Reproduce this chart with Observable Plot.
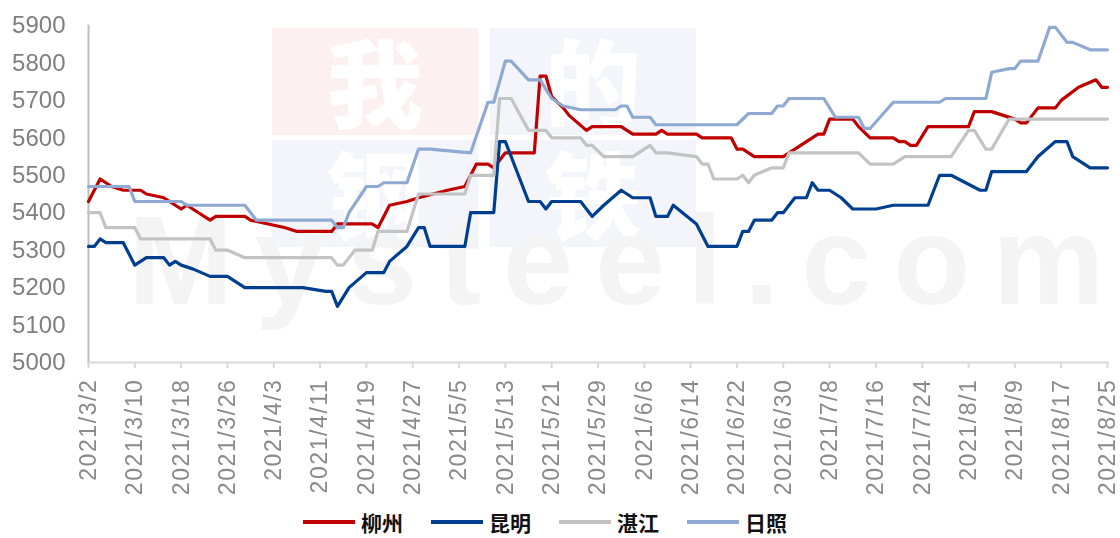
<!DOCTYPE html>
<html>
<head>
<meta charset="utf-8">
<script src="https://cdn.jsdelivr.net/npm/d3@7"></script>
<script src="https://cdn.jsdelivr.net/npm/@observablehq/plot@0.6"></script>
<style>
  html, body { margin: 0; padding: 0; background: #fff; }
  #wrap { position: relative; width: 1120px; height: 538px; overflow: hidden; font-family: "Liberation Sans", Arial, sans-serif; }
  #wm { position: absolute; left: 0; top: 0; z-index: 0; }
  #chart { position: absolute; left: 0; top: 0; z-index: 1; }
  #chart svg g[aria-label="x-axis tick label"] text { letter-spacing: 1.6px; }
  #legend { position: absolute; left: 303px; top: 507px; height: 30px; display: flex; align-items: center; z-index: 2; }
  .item { display: flex; align-items: center; margin-right: 28px; }
  .sw { width: 52px; height: 4px; margin-right: 6px; }
  .lab { font-family: "Noto Sans CJK SC", sans-serif; font-weight: 700; font-size: 21px; color: #111; }
</style>
</head>
<body>
<div id="wrap">
  <canvas id="wm" width="1120" height="500"></canvas>
  <div id="chart"></div>
  <div id="legend"></div>
</div>
<script>
// ---- data ----
const cities = ["柳州", "昆明", "湛江", "日照"];
const cityColors = ["#c00000", "#003f8f", "#c3c3c3", "#8eaad2"];

const liuzhou = [
  ["2021/3/2",5430],["2021/3/3",5460],["2021/3/4",5490],["2021/3/6",5470],["2021/3/8",5460],
  ["2021/3/11",5460],["2021/3/12",5450],["2021/3/15",5440],["2021/3/17",5420],["2021/3/18",5410],
  ["2021/3/19",5420],["2021/3/21",5400],["2021/3/23",5380],["2021/3/24",5390],["2021/3/29",5390],
  ["2021/3/30",5380],["2021/4/5",5360],["2021/4/7",5350],["2021/4/13",5350],["2021/4/14",5370],
  ["2021/4/20",5370],["2021/4/21",5360],["2021/4/23",5420],["2021/4/26",5430],["2021/4/28",5440],
  ["2021/5/3",5460],["2021/5/6",5470],["2021/5/8",5530],["2021/5/10",5530],["2021/5/11",5520],
  ["2021/5/13",5560],["2021/5/18",5560],["2021/5/19",5765],["2021/5/20",5765],["2021/5/21",5710],
  ["2021/5/23",5680],["2021/5/24",5660],["2021/5/27",5620],["2021/5/28",5630],["2021/6/2",5630],
  ["2021/6/4",5610],["2021/6/8",5610],["2021/6/9",5620],["2021/6/10",5610],["2021/6/15",5610],
  ["2021/6/16",5600],["2021/6/21",5600],["2021/6/22",5570],["2021/6/23",5570],["2021/6/25",5550],
  ["2021/6/30",5550],["2021/7/6",5610],["2021/7/7",5610],["2021/7/8",5650],["2021/7/12",5650],
  ["2021/7/13",5630],["2021/7/15",5600],["2021/7/19",5600],["2021/7/20",5590],["2021/7/21",5590],
  ["2021/7/22",5580],["2021/7/23",5580],["2021/7/25",5630],["2021/8/1",5630],["2021/8/2",5670],
  ["2021/8/5",5670],["2021/8/9",5650],["2021/8/10",5640],["2021/8/11",5640],["2021/8/13",5680],
  ["2021/8/16",5680],["2021/8/17",5700],["2021/8/20",5735],["2021/8/23",5755],["2021/8/24",5735],
  ["2021/8/25",5735]
];

const kunming = [
  ["2021/3/2",5310],["2021/3/3",5310],["2021/3/4",5330],["2021/3/5",5320],["2021/3/8",5320],
  ["2021/3/10",5260],["2021/3/12",5280],["2021/3/15",5280],["2021/3/16",5260],["2021/3/17",5270],
  ["2021/3/18",5260],["2021/3/20",5250],["2021/3/23",5230],["2021/3/26",5230],["2021/3/29",5200],
  ["2021/4/8",5200],["2021/4/12",5190],["2021/4/13",5190],["2021/4/14",5150],["2021/4/16",5200],
  ["2021/4/19",5240],["2021/4/22",5240],["2021/4/23",5270],["2021/4/26",5310],["2021/4/28",5360],
  ["2021/4/29",5360],["2021/4/30",5310],["2021/5/6",5310],["2021/5/7",5400],["2021/5/11",5400],
  ["2021/5/12",5590],["2021/5/13",5590],["2021/5/17",5430],["2021/5/19",5430],["2021/5/20",5410],
  ["2021/5/21",5430],["2021/5/26",5430],["2021/5/28",5390],["2021/5/30",5420],["2021/6/2",5460],
  ["2021/6/4",5440],["2021/6/7",5440],["2021/6/8",5390],["2021/6/10",5390],["2021/6/11",5420],
  ["2021/6/15",5370],["2021/6/17",5310],["2021/6/22",5310],["2021/6/23",5350],["2021/6/24",5350],
  ["2021/6/25",5380],["2021/6/28",5380],["2021/6/29",5400],["2021/6/30",5400],["2021/7/2",5440],
  ["2021/7/4",5440],["2021/7/5",5480],["2021/7/6",5460],["2021/7/8",5460],["2021/7/10",5440],
  ["2021/7/12",5410],["2021/7/16",5410],["2021/7/19",5420],["2021/7/25",5420],["2021/7/27",5500],
  ["2021/7/29",5500],["2021/8/3",5460],["2021/8/4",5460],["2021/8/5",5510],["2021/8/11",5510],
  ["2021/8/13",5550],["2021/8/16",5590],["2021/8/18",5590],["2021/8/19",5550],["2021/8/22",5520],
  ["2021/8/25",5520]
];

const zhanjiang = [
  ["2021/3/2",5400],["2021/3/4",5400],["2021/3/5",5360],["2021/3/10",5360],["2021/3/11",5330],
  ["2021/3/23",5330],["2021/3/24",5300],["2021/3/26",5300],["2021/3/29",5280],["2021/4/13",5280],
  ["2021/4/14",5260],["2021/4/15",5260],["2021/4/17",5300],["2021/4/20",5300],["2021/4/21",5350],
  ["2021/4/26",5350],["2021/4/28",5450],["2021/5/6",5450],["2021/5/7",5500],["2021/5/11",5500],
  ["2021/5/12",5705],["2021/5/14",5705],["2021/5/17",5620],["2021/5/20",5620],["2021/5/21",5600],
  ["2021/5/26",5600],["2021/5/27",5580],["2021/5/28",5580],["2021/5/30",5550],["2021/6/4",5550],
  ["2021/6/7",5580],["2021/6/8",5560],["2021/6/10",5560],["2021/6/15",5550],["2021/6/16",5530],
  ["2021/6/17",5530],["2021/6/18",5490],["2021/6/22",5490],["2021/6/23",5500],["2021/6/24",5480],
  ["2021/6/25",5500],["2021/6/28",5520],["2021/6/30",5520],["2021/7/1",5560],["2021/7/13",5560],
  ["2021/7/15",5530],["2021/7/19",5530],["2021/7/21",5550],["2021/7/29",5550],["2021/8/1",5620],
  ["2021/8/2",5620],["2021/8/4",5570],["2021/8/5",5570],["2021/8/8",5650],["2021/8/25",5650]
];

const rizhao = [
  ["2021/3/2",5470],["2021/3/9",5470],["2021/3/10",5430],["2021/3/18",5430],["2021/3/19",5420],
  ["2021/3/29",5420],["2021/3/31",5380],["2021/4/13",5380],["2021/4/14",5360],["2021/4/15",5360],
  ["2021/4/16",5400],["2021/4/19",5470],["2021/4/21",5470],["2021/4/22",5480],["2021/4/26",5480],
  ["2021/4/28",5570],["2021/4/30",5570],["2021/5/7",5560],["2021/5/10",5695],["2021/5/11",5695],
  ["2021/5/13",5805],["2021/5/14",5805],["2021/5/17",5755],["2021/5/19",5755],["2021/5/21",5705],
  ["2021/5/23",5685],["2021/5/26",5675],["2021/6/1",5675],["2021/6/2",5685],["2021/6/3",5685],
  ["2021/6/4",5655],["2021/6/7",5655],["2021/6/8",5635],["2021/6/22",5635],["2021/6/24",5665],
  ["2021/6/28",5665],["2021/6/29",5685],["2021/6/30",5685],["2021/7/1",5705],["2021/7/7",5705],
  ["2021/7/9",5655],["2021/7/13",5655],["2021/7/14",5625],["2021/7/15",5625],["2021/7/19",5695],
  ["2021/7/27",5695],["2021/7/28",5705],["2021/8/4",5705],["2021/8/5",5775],["2021/8/8",5785],
  ["2021/8/9",5785],["2021/8/10",5805],["2021/8/13",5805],["2021/8/15",5895],["2021/8/16",5895],
  ["2021/8/18",5855],["2021/8/19",5855],["2021/8/22",5835],["2021/8/25",5835]
];

const yTicks = [5000, 5100, 5200, 5300, 5400, 5500, 5600, 5700, 5800, 5900];
const xTickLabels = ["2021/3/2","2021/3/10","2021/3/18","2021/3/26","2021/4/3","2021/4/11","2021/4/19",
  "2021/4/27","2021/5/5","2021/5/13","2021/5/21","2021/5/29","2021/6/6","2021/6/14","2021/6/22",
  "2021/6/30","2021/7/8","2021/7/16","2021/7/24","2021/8/1","2021/8/9","2021/8/17","2021/8/25"];

// ---- background watermark (decorative logo, painted on a canvas) ----
(function drawWatermark() {
  const cv = document.getElementById("wm");
  const ctx = cv.getContext("2d");
  const boxes = [
    {x: 272, y: 28, c: "#fcf0f0", t: "我"},
    {x: 490, y: 28, c: "#f3f5fa", t: "的"},
    {x: 272, y: 140, c: "#f3f5fa", t: "钢"},
    {x: 490, y: 140, c: "#f3f5fa", t: "铁"}
  ];
  ctx.textAlign = "center";
  ctx.textBaseline = "middle";
  boxes.forEach(b => {
    ctx.fillStyle = b.c;
    ctx.fillRect(b.x, b.y, 206, 107);
    ctx.fillStyle = "#ffffff";
    ctx.font = "900 96px 'Noto Sans CJK SC', sans-serif";
    ctx.fillText(b.t, b.x + 103, b.y + 56);
  });
  ctx.textAlign = "left";
  ctx.textBaseline = "alphabetic";
  ctx.fillStyle = "#f4f4f4";
  ctx.font = "bold 126px 'Liberation Sans', Arial, sans-serif";
  const word = "Mysteel.com";
  let x = 128;
  for (const ch of word) {
    ctx.fillText(ch, x, 304);
    x += ctx.measureText(ch).width + 22;
  }
})();

// ---- build ----
const parse = d3.utcParse("%Y/%m/%d");
const seriesList = [liuzhou, kunming, zhanjiang, rizhao];
const rows = [];
seriesList.forEach((s, i) => s.forEach(([d, v]) => rows.push({city: cities[i], date: parse(d), value: v})));
const xTicks = xTickLabels.map(parse);
const fmt = d => `${d.getUTCFullYear()}/${d.getUTCMonth() + 1}/${d.getUTCDate()}`;

const chart = Plot.plot({
  width: 1120,
  height: 500,
  marginLeft: 88,
  marginRight: 13,
  marginTop: 25,
  marginBottom: 138,
  style: {background: "transparent", fontFamily: "'Liberation Sans', Arial, sans-serif", overflow: "visible"},
  x: {type: "utc", domain: [xTicks[0], xTicks[xTicks.length - 1]], label: null},
  y: {domain: [yTicks[0], yTicks[yTicks.length - 1]], label: null},
  color: {domain: cities, range: cityColors},
  marks: [
    Plot.frame({anchor: "left", stroke: "#bfbfbf", strokeWidth: 2}),
    Plot.frame({anchor: "bottom", stroke: "#d9d9d9", strokeWidth: 2}),
    Plot.axisY({ticks: yTicks, tickSize: 0, tickPadding: 23, fontSize: 24, fill: "#7f7f7f", label: null, tickFormat: d => String(d)}),
    Plot.axisX({ticks: xTicks, tickSize: 6, tickPadding: 10, tickRotate: -90, fontSize: 23, stroke: "#d9d9d9", strokeWidth: 2, fill: "#8a8a8a", label: null, tickFormat: fmt}),
    Plot.line(rows, {x: "date", y: "value", stroke: "city", z: "city", strokeWidth: 3.2, strokeLinejoin: "round", strokeLinecap: "round"})
  ]
});
document.getElementById("chart").appendChild(chart);

// legend
const legend = document.getElementById("legend");
cities.forEach((c, i) => {
  const it = document.createElement("div");
  it.className = "item";
  const sw = document.createElement("div");
  sw.className = "sw";
  sw.style.background = cityColors[i];
  const lb = document.createElement("span");
  lb.className = "lab";
  lb.textContent = c;
  it.appendChild(sw); it.appendChild(lb);
  legend.appendChild(it);
});
</script>
</body>
</html>
